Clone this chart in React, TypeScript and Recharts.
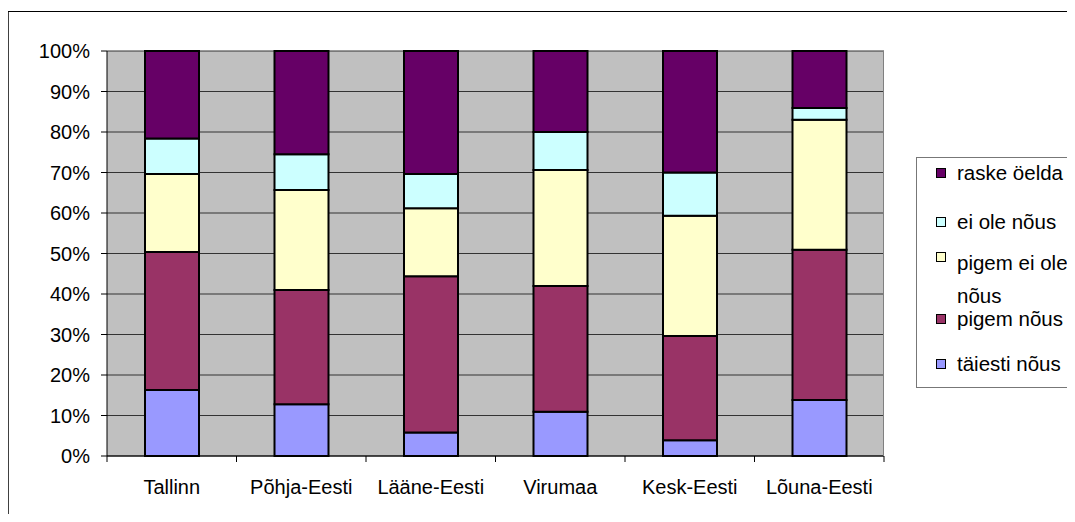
import React from "react";
import {
  BarChart,
  Bar,
  XAxis,
  YAxis,
  CartesianGrid,
  Legend,
} from "recharts";

const regions = ["Tallinn", "Põhja-Eesti", "Lääne-Eesti", "Virumaa", "Kesk-Eesti", "Lõuna-Eesti"];
const taiestiNous = [16.3, 12.8, 5.8, 10.9, 3.9, 13.8];
const pigemNous = [34.1, 28.2, 38.6, 31.1, 25.7, 37.1];
const pigemEiOleNous = [19.2, 24.7, 16.8, 28.6, 29.7, 32.1];
const eiOleNous = [8.8, 8.8, 8.4, 9.4, 10.7, 2.9];
const raskeOelda = [21.6, 25.5, 30.4, 20.0, 30.0, 14.1];
const yTicks = [0, 10, 20, 30, 40, 50, 60, 70, 80, 90, 100];
// legend order, top to bottom
const legendOrder = ["raske öelda", "ei ole nõus", "pigem ei ole nõus", "pigem nõus", "täiesti nõus"];

const data = regions.map((r, i) => ({
  region: r,
  taiesti: taiestiNous[i],
  pigem: pigemNous[i],
  pigemEi: pigemEiOleNous[i],
  eiOle: eiOleNous[i],
  raske: raskeOelda[i],
}));

const FONT = '"Liberation Sans", Arial, sans-serif';
const W = 1075;
const H = 522;
const PLOT_L = 107;
const PLOT_R = 884;
const PLOT_T = 51;
const PLOT_B = 456;
const Y_AXIS_W = 80;
const X_AXIS_H = 40;
const BAND = (PLOT_R - PLOT_L) / regions.length;

const XTick = (props: any) => {
  const { x, y, payload, index } = props;
  const half = BAND / 2;
  return (
    <g>
      <line x1={x - half} x2={x - half} y1={y} y2={y + 6} stroke="#000" />
      {index === regions.length - 1 && (
        <line x1={x + half} x2={x + half} y1={y} y2={y + 6} stroke="#000" />
      )}
      <text
        x={x}
        y={y + 31}
        textAnchor="middle"
        dominantBaseline="central"
        fontSize={20}
        fontFamily={FONT}
        fill="#000"
      >
        {payload.value}
      </text>
    </g>
  );
};

// item placement inside the legend box (top of line box, line height)
const legendRows = [
  { top: 4, lh: 22 },
  { top: 53, lh: 22 },
  { top: 88, lh: 33 },
  { top: 150, lh: 22 },
  { top: 195, lh: 22 },
];

const renderLegend = (props: any) => {
  const payload = props.payload || [];
  const items = legendOrder
    .map((n) => payload.find((p: any) => p.value === n))
    .filter(Boolean);
  return (
    <div
      style={{
        position: "relative",
        width: 175,
        height: 231,
        border: "1px solid #777",
        background: "#fff",
        boxSizing: "border-box",
        fontFamily: FONT,
        fontSize: 20.5,
        color: "#000",
      }}
    >
      {items.map((it: any, i: number) => {
        const row = legendRows[i];
        return (
          <div key={it.value} style={{ position: "absolute", left: 0, top: row.top, width: 175 }}>
            <span
              style={{
                position: "absolute",
                left: 19,
                top: Math.min(row.lh, 22) / 2 - 5,
                width: 8,
                height: 8,
                background: it.color,
                border: "1.5px solid #000",
              }}
            />
            <div
              style={{
                position: "absolute",
                left: 40,
                top: 0,
                width: 122,
                lineHeight: row.lh + "px",
                whiteSpace: "normal",
              }}
            >
              {it.value}
            </div>
          </div>
        );
      })}
    </div>
  );
};

export default function App() {
  return (
    <div
      style={{
        position: "relative",
        width: W,
        height: H,
        margin: -8,
        overflow: "hidden",
        background: "#fff",
        fontFamily: FONT,
      }}
    >
      <div style={{ position: "absolute", left: 0, top: 0 }}>
        <BarChart
          width={W}
          height={H}
          data={data}
          margin={{
            top: PLOT_T,
            right: W - PLOT_R,
            bottom: H - PLOT_B - X_AXIS_H,
            left: PLOT_L - Y_AXIS_W,
          }}
        >
          <CartesianGrid
            vertical={false}
            stroke="#333"
            fill="#C0C0C0"
            fillOpacity={1}
          />
          <XAxis
            dataKey="region"
            height={X_AXIS_H}
            axisLine={{ stroke: "#000" }}
            tickLine={false}
            tickSize={0}
            tickMargin={0}
            tick={<XTick />}
            interval={0}
          />
          <YAxis
            width={Y_AXIS_W}
            domain={[0, 100]}
            ticks={yTicks}
            interval={0}
            tickFormatter={(v: number) => v + "%"}
            axisLine={{ stroke: "#000" }}
            tickLine={{ stroke: "#000" }}
            tickSize={6}
            tickMargin={11}
            tick={{ fill: "#000", fontSize: 20, fontFamily: FONT }}
          />
          <Legend
            layout="vertical"
            align="center"
            verticalAlign="middle"
            content={renderLegend}
            wrapperStyle={{ position: "absolute", left: 916, top: 157, width: 175, height: 231 }}
          />
          <Bar dataKey="taiesti" name="täiesti nõus" stackId="a" fill="#9999FF" stroke="#000" strokeWidth={2} barSize={54} isAnimationActive={false} />
          <Bar dataKey="pigem" name="pigem nõus" stackId="a" fill="#993366" stroke="#000" strokeWidth={2} barSize={54} isAnimationActive={false} />
          <Bar dataKey="pigemEi" name="pigem ei ole nõus" stackId="a" fill="#FFFFCC" stroke="#000" strokeWidth={2} barSize={54} isAnimationActive={false} />
          <Bar dataKey="eiOle" name="ei ole nõus" stackId="a" fill="#CCFFFF" stroke="#000" strokeWidth={2} barSize={54} isAnimationActive={false} />
          <Bar dataKey="raske" name="raske öelda" stackId="a" fill="#660066" stroke="#000" strokeWidth={2} barSize={54} isAnimationActive={false} />
        </BarChart>
      </div>
      {/* outer chart frame (left and top edges visible) */}
      <svg
        width={W}
        height={H}
        style={{ position: "absolute", left: 0, top: 0, pointerEvents: "none" }}
      >
        <line x1={8} y1={11} x2={8} y2={H} stroke="#000" strokeWidth={1.5} />
        <line x1={7} y1={11.5} x2={W} y2={11.5} stroke="#000" strokeWidth={1} />
        <line x1={PLOT_R - 0.5} y1={PLOT_T} x2={PLOT_R - 0.5} y2={PLOT_B} stroke="#808080" strokeWidth={1} />
      </svg>
    </div>
  );
}
